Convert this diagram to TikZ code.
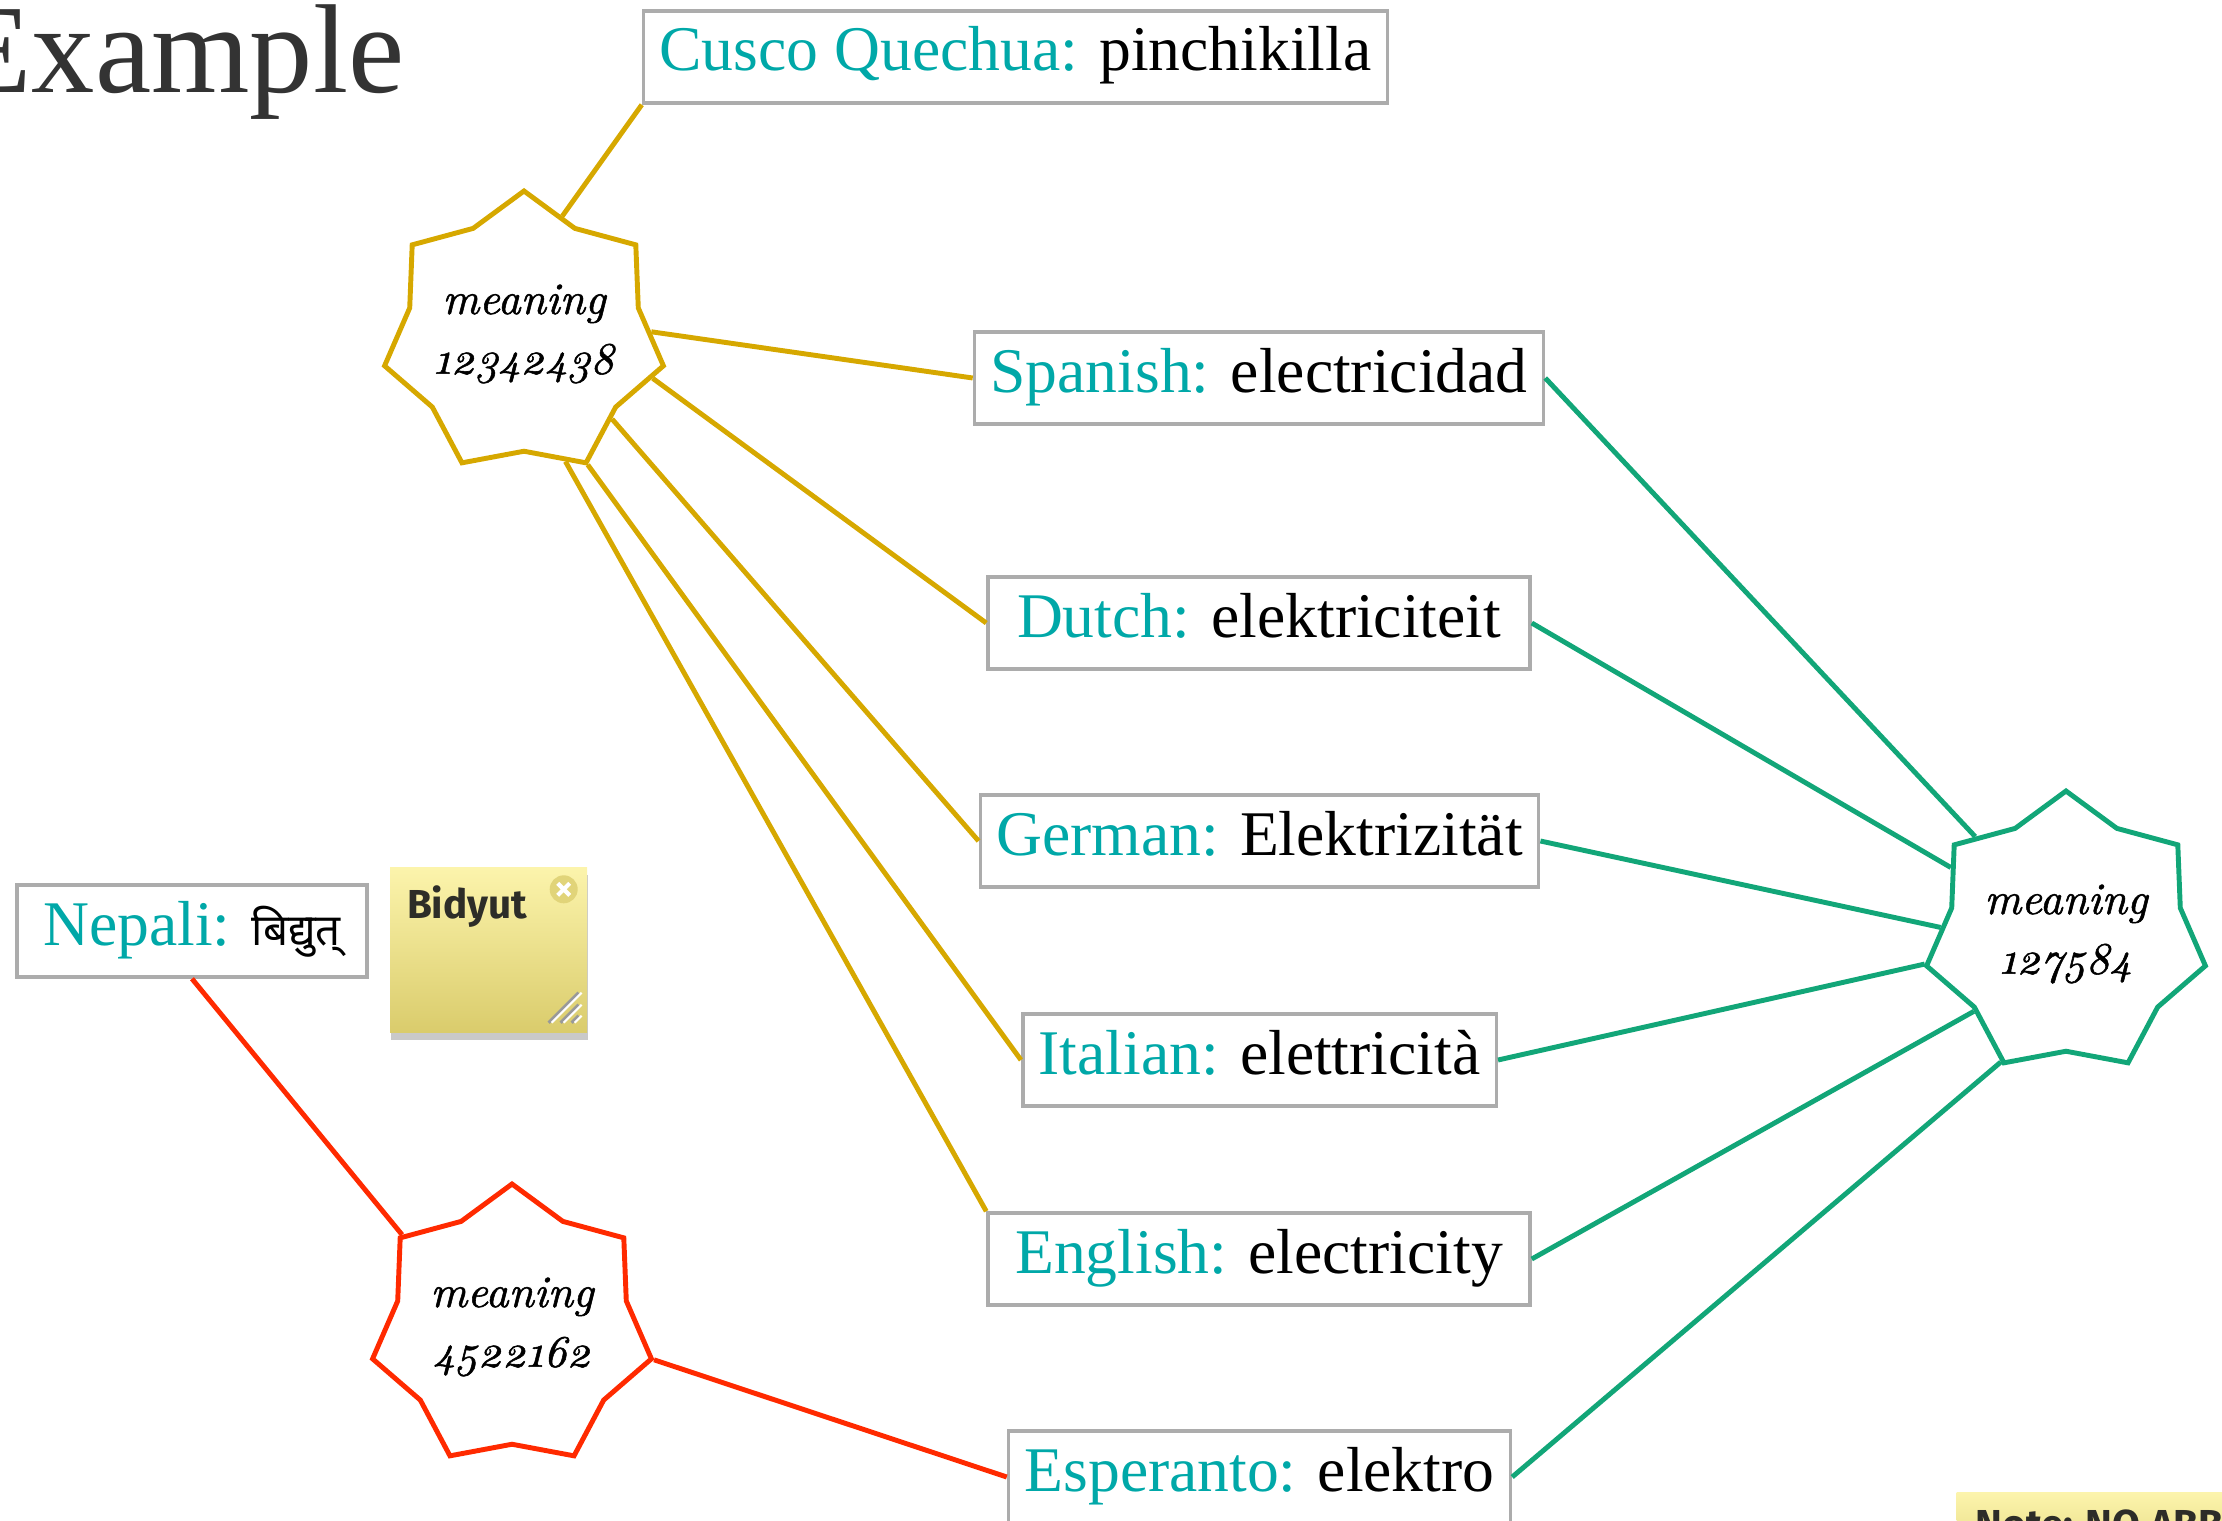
\documentclass[tikz,border=0pt]{standalone}
\usepackage{fontspec}
\usepackage{xcolor}
\usetikzlibrary{shapes.geometric,shadows,positioning}
\setmainfont{Liberation Serif}
\newfontfamily\meaningfont{lmroman10-regular.otf}[ItalicFont=lmroman10-italic.otf,ItalicFeatures={FakeBold=1.2},Numbers=OldStyle]
\newfontfamily\devafont{Noto Sans}[Script=Devanagari]
\newfontfamily\notefont{Fira Sans}
\definecolor{langteal}{RGB}{0,168,168}
\definecolor{boxgray}{RGB}{172,172,172}
\definecolor{goldline}{RGB}{214,168,0}
\definecolor{greenline}{RGB}{18,166,120}
\definecolor{redline}{RGB}{255,42,0}
\definecolor{titlegray}{RGB}{51,51,51}
\definecolor{notetop}{RGB}{252,244,172}
\definecolor{notebottom}{RGB}{218,204,108}
\definecolor{notedark}{RGB}{45,45,40}
\NewDocumentCommand\word{mm}{\textcolor{langteal}{#1:} #2}

\begin{document}
\begin{tikzpicture}[
        wordbox/.style={draw=boxgray,line width=1pt,inner xsep=0.16cm,inner ysep=0pt,
            text height=0.6cm,text depth=0.32cm,font=\fontsize{18.1}{22}\selectfont},
        meaningstar/.style={draw=#1,line width=1.4pt,star,star points=7,star point ratio=1.22,
            minimum size=2.86cm,inner sep=-0.4cm,align=center,
            font=\meaningfont\itshape\fontsize{12.8}{17}\selectfont},
        link/.style={line width=1.4pt,draw=#1},
        stickynote/.style={top color=notetop,bottom color=notebottom,
            drop shadow={shadow xshift=0.01cm,shadow yshift=-0.08cm,opacity=0.3,fill=black!70}},
        notetext/.style={inner sep=0pt,text=notedark,font=\notefont\bfseries\fontsize{11.5}{13}\selectfont},
        gripline/.style={draw=black!40,line width=0.9pt}]
                \useasboundingbox (0,0) rectangle (22.22,-15.21);
                \node[anchor=base east,inner sep=0pt,text=titlegray,font=\fontsize{36}{40}\selectfont] (title) at (4.05,-0.92) {Example};

                \node[wordbox] (cusco) at (10.155,-0.57) {\word{Cusco Quechua}{pinchikilla}};
                \node[wordbox] (spanish) at (12.59,-3.78) {\word{Spanish}{electricidad}};
                \node[wordbox,minimum width=5.42cm] (dutch) at (12.59,-6.23) {\word{Dutch}{elektriciteit}};
                \node[wordbox] (german) at (12.595,-8.41) {\word{German}{Elektrizität}};
                \node[wordbox] (italian) at (12.595,-10.60) {\word{Italian}{elettricità}};
                \node[wordbox,minimum width=5.42cm] (english) at (12.59,-12.59) {\word{English}{electricity}};
                \node[wordbox] (esperanto) at (12.595,-14.77) {\word{Esperanto}{elektro}};
                \node[wordbox,minimum width=3.5cm] (nepali) at (1.92,-9.31) {\word{Nepali}{{\devafont\fontsize{12.5}{14}\selectfont बिद्युत्}}};

                \node[meaningstar=goldline] (goldstar) at (5.24,-3.34) {meaning\\12342438};
                \node[meaningstar=greenline] (greenstar) at (20.66,-9.34) {meaning\\127584};
                \node[meaningstar=redline] (redstar) at (5.12,-13.27) {meaning\\4522162};

                \draw[link=goldline] (goldstar.72) -- (cusco.south west);
                \draw[link=goldline] (goldstar.1) -- (spanish.west);
                \draw[link=goldline] (goldstar.-19) -- (dutch.west);
                \draw[link=goldline] (goldstar.-44) -- (german.west);
                \draw[link=goldline] (goldstar.-64) -- (italian.west);
                \draw[link=goldline] (goldstar.-72) -- (english.north west);

                \draw[link=greenline] (spanish.east) -- (greenstar.133);
                \draw[link=greenline] (dutch.east) -- (greenstar.150);
                \draw[link=greenline] (german.east) -- (greenstar.177);
                \draw[link=greenline] (italian.east) -- (greenstar.192);
                \draw[link=greenline] (english.east) -- (greenstar.220);
                \draw[link=greenline] (esperanto.east) -- (greenstar.243);

                \draw[link=redline] (nepali.south) -- (redstar.140);
                \draw[link=redline] (esperanto.west) -- (redstar.-13);

                \node[stickynote,minimum width=1.97cm,minimum height=1.65cm] (bidyut) at (4.885,-9.495) {};
                \node[notetext,below right=0.19cm and 0.17cm of bidyut.north west] (bidyuttext) {Bidyut};
                \node[circle,fill=notebottom!80!notetop,minimum size=0.28cm,inner sep=0pt] (bidyutclose)
                    at ([xshift=-0.24cm,yshift=-0.23cm]bidyut.north east) {};
                \draw[white,line width=1.2pt] ([shift={(-0.06,-0.06)}]bidyutclose.center) -- ([shift={(0.06,0.06)}]bidyutclose.center);
                \draw[white,line width=1.2pt] ([shift={(-0.06,0.06)}]bidyutclose.center) -- ([shift={(0.06,-0.06)}]bidyutclose.center);
                \foreach \g in {0.30,0.18,0.07} {
                    \draw[gripline] ([shift={(-0.09-\g,0.10)}]bidyut.south east) -- ([shift={(-0.09,0.10+\g)}]bidyut.south east);
                    \draw[white,line width=0.6pt] ([shift={(-0.06-\g,0.10)}]bidyut.south east) -- ([shift={(-0.06,0.10+\g)}]bidyut.south east);
                }

                \node[stickynote,anchor=north west,minimum width=3cm,minimum height=1cm] (abbrnote) at (19.56,-14.92) {};
                \node[notetext,anchor=base west] (abbrtext) at ([xshift=0.19cm,yshift=-0.46cm]abbrnote.north west) {Note: NO ABBREVIATIONS};
            \end{tikzpicture}
\end{document}
